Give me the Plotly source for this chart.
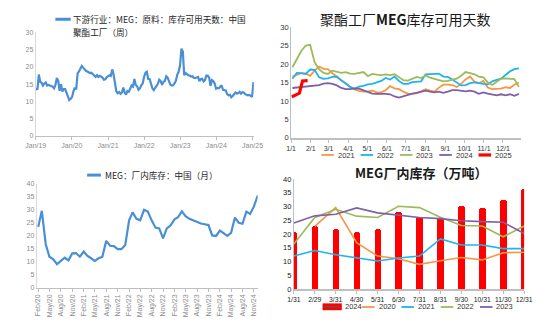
import pandas as pd
import plotly.graph_objects as go

W, H = 550, 322

# ---------------- data ----------------
# MEG raw-material days of supply at China polyester plants (biweekly readings, 2019 -> Jan 2025)
supply_2019 = [13.9, 13.4, 17.8, 15.7, 15.4, 14.6, 15.2, 15.5, 14.6, 14.8, 14.6, 14.5, 14.3,
               13.8, 14.8, 16.8, 16.0, 13.1, 15.0, 12.9, 13.6, 13.6, 12.4, 11.5, 10.4, 10.8]
supply_2020 = [11.3, 12.9, 14.0, 13.5, 18.1, 18.7, 19.5, 20.3, 19.8, 19.3, 18.9, 18.7, 18.4,
               18.2, 18.3, 17.8, 17.6, 17.1, 17.6, 17.1, 17.4, 17.2, 16.9, 16.3, 16.4, 17.0]
supply_2021 = [17.4, 17.6, 17.4, 19.3, 17.8, 15.0, 12.9, 12.4, 12.7, 12.2, 12.6, 14.0, 12.6,
               12.0, 13.0, 12.8, 13.6, 14.6, 14.3, 16.5, 14.8, 14.4, 13.4, 13.8, 14.7, 15.2]
supply_2022 = [17.1, 18.3, 18.6, 16.5, 16.5, 15.2, 13.8, 13.3, 14.0, 14.6, 15.1, 16.3, 15.9,
               14.8, 15.7, 15.9, 17.3, 16.9, 15.7, 14.9, 14.6, 14.7, 15.2, 16.0, 17.8, 18.6]
supply_2023 = [20.5, 25.3, 24.5, 17.6, 18.2, 17.8, 17.6, 17.5, 17.2, 17.3, 16.8, 16.8, 16.9,
               17.1, 15.9, 16.5, 16.6, 15.8, 16.2, 17.5, 17.5, 16.9, 14.5, 16.2, 15.9, 15.2]
supply_2024 = [13.7, 13.9, 13.8, 14.3, 14.7, 13.4, 13.2, 13.2, 12.1, 11.8, 11.9, 11.2, 11.6,
               12.3, 12.6, 12.3, 12.4, 12.8, 12.3, 12.7, 12.6, 12.1, 11.9, 11.8, 11.9, 11.6]
supply_2025 = [11.3, 15.6]
supply_values = supply_2019 + supply_2020 + supply_2021 + supply_2022 + supply_2023 + supply_2024 + supply_2025
supply_dates = pd.date_range("2019-01-04", periods=len(supply_values), freq="14D")
year_ticks = ["2019-01-01", "2020-01-01", "2021-01-01", "2022-01-01",
              "2023-01-01", "2024-01-01", "2025-01-01"]

# Seasonal days of supply (weekly), plotted on a common calendar year
season_2021 = [16.6, 17.0, 17.5, 17.4, 16.8, 18.2, 19.3, 18.7, 18.6, 17.5, 16.5, 15.6, 14.7,
               13.8, 13.1, 12.7, 12.5, 12.6, 12.8, 12.3, 12.3, 12.9, 14.0, 13.4, 13.2, 12.5,
               12.0, 11.9, 12.1, 12.6, 13.2, 12.8, 12.5, 13.6, 14.4, 14.4, 14.3, 13.8, 14.6,
               15.8, 16.6, 15.2, 14.8, 15.4, 13.6, 13.2, 13.2, 13.3, 13.7, 13.5, 14.4, 15.0]
season_2022 = [16.0, 17.6, 17.5, 17.3, 18.5, 18.4, 16.4, 16.0, 16.1, 16.5, 16.6, 15.5, 14.8,
               13.8, 13.3, 13.9, 14.1, 14.5, 14.6, 14.9, 15.4, 16.2, 15.8, 16.6, 15.4, 14.6,
               14.6, 15.1, 15.3, 15.3, 17.2, 17.2, 17.2, 17.4, 16.6, 16.5, 15.8, 14.9, 14.2,
               14.3, 14.8, 15.0, 14.7, 14.6, 14.5, 15.3, 15.7, 16.0, 17.0, 18.0, 18.6, 18.8]
season_2023 = [19.1, 21.5, 23.5, 25.0, 25.2, 20.5, 18.6, 17.6, 17.3, 18.2, 17.8, 17.6, 17.8,
               17.4, 17.3, 17.6, 17.8, 16.7, 17.3, 17.1, 17.0, 17.2, 17.0, 17.2, 16.3, 15.6,
               15.5, 16.0, 16.5, 16.2, 16.9, 16.3, 16.0, 15.5, 15.3, 15.4, 15.6, 16.0, 16.8,
               17.8, 17.5, 17.2, 16.6, 16.4, 15.0, 14.3, 15.2, 16.0, 16.1, 16.0, 15.9, 13.8]
season_2024 = [13.5, 13.6, 13.7, 13.8, 13.9, 14.0, 14.3, 14.7, 14.8, 14.6, 14.2, 13.5, 13.2,
               13.2, 13.4, 13.3, 12.8, 12.5, 12.0, 11.9, 12.0, 11.9, 11.8, 11.2, 10.9, 11.3,
               11.7, 12.0, 12.2, 12.5, 12.8, 12.5, 12.3, 12.5, 12.2, 12.5, 12.9, 12.9, 12.7,
               12.6, 12.8, 12.5, 11.9, 12.3, 12.0, 11.8, 11.5, 11.8, 11.5, 11.8, 11.4, 11.9]
season_2025 = [11.1, 11.6, 12.1, 15.4, 15.5]
season_2025_days = ["2001-01-02", "2001-01-09", "2001-01-14", "2001-01-19", "2001-01-27"]
season_weeks = pd.date_range("2001-01-03", periods=52, freq="7D")

# MEG in-plant inventory, China (monthly, 10k t), Feb 2020 -> Dec 2024
stock_2020 = [23.4, 29.6, 16.8, 11.9, 10.9, 9.0, 10.3, 11.5, 10.5, 13.2, 13.3]
stock_2021 = [11.9, 13.9, 12.3, 11.3, 10.3, 11.3, 11.9, 18.0, 16.1, 16.0, 14.8, 14.8]
stock_2022 = [16.4, 25.9, 29.0, 26.5, 25.9, 30.0, 29.3, 25.9, 23.1, 22.8, 19.0, 22.8]
stock_2023 = [24.0, 26.3, 27.1, 29.4, 27.5, 26.5, 25.9, 25.5, 24.7, 24.4, 24.1, 20.1]
stock_2024 = [19.9, 22.0, 20.8, 19.9, 21.1, 27.0, 25.0, 24.6, 29.3, 28.4, 31.3, 35.5]
stock_values = stock_2020 + stock_2021 + stock_2022 + stock_2023 + stock_2024
stock_dates = pd.date_range("2020-02-01", periods=len(stock_values), freq="MS")

# MEG in-plant inventory by month-end, per year (10k t)
month_ends = ["1/31", "2/29", "3/31", "4/30", "5/31", "6/30",
              "7/31", "8/31", "9/30", "10/31", "11/30", "12/31"]
inv_2024 = [20.8, 22.8, 21.7, 20.7, 21.7, 27.9, 26.2, 25.9, 30.1, 29.4, 32.2, 36.4]
inv_2020 = [None, 22.8, 29.6, 16.9, 12.0, 11.0, 9.0, 10.3, 11.5, 10.6, 13.2, 13.4]
inv_2021 = [12.0, 14.0, 12.5, 11.4, 10.2, 11.3, 12.0, 18.2, 16.0, 16.0, 14.7, 14.7]
inv_2022 = [16.4, 26.0, 29.0, 26.5, 26.0, 30.1, 29.6, 26.1, 23.1, 22.9, 19.0, 22.9]
inv_2023 = [24.0, 26.6, 27.2, 29.5, 27.7, 26.9, 26.0, 25.6, 24.8, 24.5, 24.3, 20.2]

# ---------------- styling ----------------
BLUE = "#4A8FD6"
ORANGE, CYAN, GREEN, PURPLE, RED = "#F79646", "#1FB4EE", "#9BBB59", "#7F5FA6", "#FF0000"
NUM_FONT = "Liberation Sans, Arial, sans-serif"
CJK_FONT = "Noto Sans CJK SC, sans-serif"


def px(x):
    return x / W


def py(y):
    return 1 - y / H


fig = go.Figure()

# Top-left: weekly days of supply
fig.add_trace(go.Scatter(x=supply_dates, y=supply_values, mode="lines",
                         line=dict(color=BLUE, width=2.2), name="聚酯工厂库存可用天数",
                         xaxis="x", yaxis="y", showlegend=False))

# Top-right: seasonal lines
season_series = [("2021", season_weeks, season_2021, ORANGE, 1.8),
                 ("2022", season_weeks, season_2022, CYAN, 1.8),
                 ("2023", season_weeks, season_2023, GREEN, 1.8),
                 ("2024", season_weeks, season_2024, PURPLE, 1.8),
                 ("2025", season_2025_days, season_2025, RED, 3.2)]
for name, xs, ys, color, width in season_series:
    fig.add_trace(go.Scatter(x=xs, y=ys, mode="lines", name=name,
                             line=dict(color=color, width=width),
                             xaxis="x2", yaxis="y2", showlegend=False))

# Bottom-left: monthly inventory
fig.add_trace(go.Scatter(x=stock_dates, y=stock_values, mode="lines",
                         line=dict(color=BLUE, width=2.2), name="MEG厂内库存",
                         xaxis="x3", yaxis="y3", showlegend=False))

# Bottom-right: 2024 bars plus earlier years as lines
fig.add_trace(go.Bar(x=month_ends, y=inv_2024, name="2024", width=0.31,
                     marker=dict(color=RED, line=dict(width=0), cornerradius=3),
                     xaxis="x4", yaxis="y4", showlegend=False))
inv_series = [("2020", inv_2020, ORANGE), ("2021", inv_2021, CYAN),
              ("2022", inv_2022, GREEN), ("2023", inv_2023, PURPLE)]
for name, ys, color in inv_series:
    fig.add_trace(go.Scatter(x=month_ends, y=ys, mode="lines", name=name,
                             line=dict(color=color, width=1.6),
                             xaxis="x4", yaxis="y4", showlegend=False))

axis_common = dict(showgrid=False, zeroline=False, showline=True, linecolor="#BFBFBF",
                   linewidth=1, fixedrange=True)

fig.update_layout(
    width=W, height=H,
    margin=dict(l=0, r=0, t=0, b=0),
    paper_bgcolor="white", plot_bgcolor="white",
    bargap=0,
    xaxis=dict(axis_common, domain=[px(25.7), px(252.0)], anchor="y", type="date",
               range=["2019-01-01", "2025-01-14"], tickvals=year_ticks, tickformat="%b/%y",
               tickangle=0, ticks="outside", ticklen=3, tickcolor="#BFBFBF",
               tickfont=dict(family=NUM_FONT, size=7, color="#8C8C8C")),
    yaxis=dict(axis_common, domain=[py(135.7), py(29.3)], anchor="x", range=[0, 30], dtick=5,
               linecolor="#D9D9D9",
               tickfont=dict(family=NUM_FONT, size=7, color="#8C8C8C")),
    xaxis2=dict(axis_common, domain=[px(290.7), px(529.0)], anchor="y2", type="date",
                range=["2001-01-01", "2001-12-29"], dtick="M1", tick0="2001-01-01",
                tickformat="%-m/%-d", tickangle=0, ticks="outside", ticklen=3,
                tickcolor="#BFBFBF", linewidth=1.5,
                tickfont=dict(family=NUM_FONT, size=7, color="#333333")),
    yaxis2=dict(axis_common, domain=[py(137.7), py(23.7)], anchor="x2", range=[0, 30], dtick=5,
                tickfont=dict(family=NUM_FONT, size=7.5, color="#333333")),
    xaxis3=dict(axis_common, domain=[px(26.7), px(256.0)], anchor="y3", type="date",
                range=["2020-01-20", "2024-12-01"], dtick="M3", tick0="2020-02-01",
                tickformat="%b/%y", tickangle=-90, ticks="outside", ticklen=3,
                tickcolor="#BFBFBF",
                tickfont=dict(family=NUM_FONT, size=7, color="#8C8C8C")),
    yaxis3=dict(axis_common, domain=[py(291.7), py(185.0)], anchor="x3", range=[0, 40], dtick=5,
                linecolor="#D9D9D9",
                tickfont=dict(family=NUM_FONT, size=7, color="#8C8C8C")),
    xaxis4=dict(axis_common, domain=[px(293.5), px(532.5)], anchor="y4", type="category",
                range=[0, 11], tickangle=0, ticks="outside", ticklen=3, tickcolor="#BFBFBF",
                linewidth=1.5,
                tickfont=dict(family=NUM_FONT, size=6.8, color="#222222")),
    yaxis4=dict(axis_common, domain=[py(293.3), py(180.0)], anchor="x4", range=[0, 40], dtick=5,
                tickfont=dict(family=NUM_FONT, size=7.5, color="#222222")),
)

shapes = []
annotations = []


def legend_line(x0, x1, y, color, width):
    shapes.append(dict(type="line", xref="paper", yref="paper", x0=px(x0), x1=px(x1),
                       y0=py(y), y1=py(y), line=dict(color=color, width=width)))


def label(x, y, text, size, color="#333333", family=CJK_FONT, anchor="left"):
    annotations.append(dict(xref="paper", yref="paper", x=px(x), y=py(y), text=text,
                            showarrow=False, xanchor=anchor, yanchor="middle",
                            font=dict(family=family, size=size, color=color)))


# Top-left legend (two-line series name)
legend_line(46, 62, 15.7, BLUE, 3)
label(62.5, 15.3, "下游行业：MEG：原料：库存可用天数：中国", 8.6, color="#262626")
label(62.5, 29.3, "聚酯工厂（周）", 8.6, color="#262626")

# Top-right title and legend
label(409, 15.5, "聚酯工厂<b>MEG</b>库存可用天数", 14, color="#1A1A1A", anchor="center")
for i, (name, _, _, color, width) in enumerate(season_series):
    x0 = 322 + 40.8 * i
    legend_line(x0, x0 + 13, 155.3, color, width)
    label(x0 + 15, 155.5, name, 7.5, color="#333333", family=NUM_FONT)

# Bottom-left legend
legend_line(79, 93.3, 176, BLUE, 3)
label(95, 176, "MEG：厂内库存：中国（月）", 8.6, color="#262626")

# Bottom-right title and legend
label(425.5, 173.5, "<b>MEG厂内库存（万吨）</b>", 13, color="#1A1A1A", anchor="center")
shapes.append(dict(type="rect", xref="paper", yref="paper", x0=px(323.3), x1=px(343.3),
                   y0=py(315), y1=py(308), fillcolor=RED, line=dict(width=0)))
legend_line(325, 341.5, 311.5, "#595959", 1.2)
label(345, 311.7, "2024", 7.5, color="#333333", family=NUM_FONT)
for i, (name, _, color) in enumerate(inv_series):
    x0 = 364.3 + 40.8 * i
    legend_line(x0, x0 + 13, 311.7, color, 1.8)
    label(x0 + 15, 311.7, name, 7.5, color="#333333", family=NUM_FONT)

fig.update_layout(shapes=shapes, annotations=annotations)
fig.write_html("out.html")
